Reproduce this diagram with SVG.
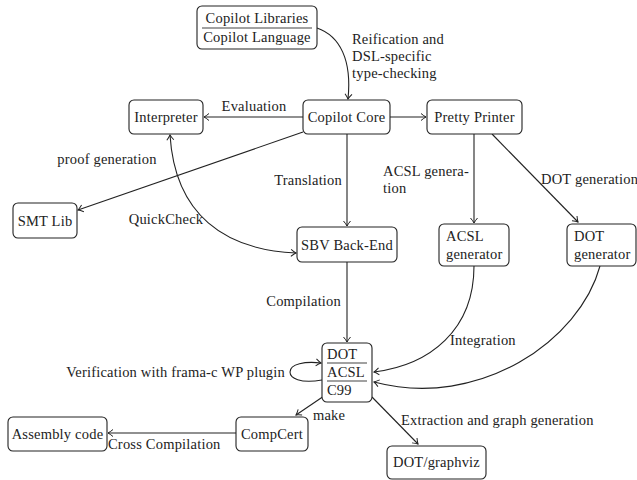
<svg xmlns="http://www.w3.org/2000/svg" width="637" height="480" viewBox="0 0 637 480">
<style>
.box{fill:#fff;stroke:#222;stroke-width:1.1}
.t{font-family:"Liberation Serif","Times New Roman",serif;font-size:14.5px;letter-spacing:0.2px;fill:#222}
.m{text-anchor:middle}
.e{text-anchor:end}
.c{fill:none;stroke:#222;stroke-width:1.1}
.div{stroke:#444;stroke-width:1.2}
</style>
<defs>
<marker id="arr" viewBox="-7 -5 9 10" refX="0" refY="0" markerWidth="9" markerHeight="10" orient="auto-start-reverse" markerUnits="userSpaceOnUse">
<path d="M-5,-3.5 Q-2,-1 0,0 Q-2,1 -5,3.5" fill="none" stroke="#222" stroke-width="1"/>
</marker>
</defs>
<g id="connectors">
<path class="c" d="M317,28 C340,36 352,60 348,99" marker-end="url(#arr)"/>
<text class="t" x="352" y="44">Reification and</text>
<text class="t" x="352" y="61">DSL-specific</text>
<text class="t" x="352" y="78">type-checking</text>
<path class="c" d="M303,117 L204,117" marker-end="url(#arr)"/>
<text class="t m" x="254" y="111">Evaluation</text>
<path class="c" d="M390,117 L426,117" marker-end="url(#arr)"/>
<path class="c" d="M303,132 L78,210" marker-end="url(#arr)"/>
<text class="t m" x="107" y="164">proof generation</text>
<path class="c" d="M347,134 L347,226" marker-end="url(#arr)"/>
<text class="t e" x="342" y="185">Translation</text>
<path class="c" d="M170,135 C175,215 225,250 296,253" marker-start="url(#arr)" marker-end="url(#arr)"/>
<text class="t m" x="166" y="224">QuickCheck</text>
<path class="c" d="M474,134 L474,223" marker-end="url(#arr)"/>
<text class="t" x="383" y="176">ACSL genera-</text>
<text class="t" x="383" y="193">tion</text>
<path class="c" d="M492,134 L578,222" marker-end="url(#arr)"/>
<text class="t" x="541" y="184">DOT generation</text>
<path class="c" d="M347,262 L347,342" marker-end="url(#arr)"/>
<text class="t e" x="341" y="306">Compilation</text>
<path class="c" d="M474,266 C474,330 430,365 374,372" marker-end="url(#arr)"/>
<path class="c" d="M600,266 C580,340 480,410 374,382" marker-end="url(#arr)"/>
<text class="t" x="450" y="345">Integration</text>
<path class="c" d="M322,380 C300,384 290,378 290,372 C290,364 305,361 321,363" marker-end="url(#arr)"/>
<text class="t e" x="285" y="377">Verification with frama-c WP plugin</text>
<path class="c" d="M324,396 L296,415" marker-end="url(#arr)"/>
<text class="t" x="313" y="420">make</text>
<path class="c" d="M236,433 L108,433" marker-end="url(#arr)"/>
<text class="t" x="108" y="449">Cross Compilation</text>
<path class="c" d="M372,397 L418,444" marker-end="url(#arr)"/>
<text class="t" x="401" y="425">Extraction and graph generation</text>
</g>
<g id="copilot-lib">
<rect class="box" x="197" y="6" width="120" height="43" rx="5"/>
<line class="div" x1="202" y1="28" x2="312" y2="28"/>
<text class="t m" x="257" y="23">Copilot Libraries</text>
<text class="t m" x="257" y="42">Copilot Language</text>
</g>
<g id="interpreter">
<rect class="box" x="129" y="100" width="74" height="34" rx="5"/>
<text class="t m" x="166" y="122">Interpreter</text>
</g>
<g id="copilot-core">
<rect class="box" x="303" y="100" width="87" height="34" rx="5"/>
<text class="t m" x="346.5" y="122">Copilot Core</text>
</g>
<g id="pretty-printer">
<rect class="box" x="427" y="100" width="95" height="34" rx="5"/>
<text class="t m" x="474.5" y="122">Pretty Printer</text>
</g>
<g id="smt-lib">
<rect class="box" x="13" y="203" width="64" height="35" rx="5"/>
<text class="t m" x="45" y="226">SMT Lib</text>
</g>
<g id="sbv">
<rect class="box" x="297" y="227" width="100" height="35" rx="5"/>
<text class="t m" x="347" y="250">SBV Back-End</text>
</g>
<g id="acsl-gen">
<rect class="box" x="439" y="224" width="70" height="42" rx="5"/>
<text class="t" x="446" y="241">ACSL</text>
<text class="t" x="446" y="259">generator</text>
</g>
<g id="dot-gen">
<rect class="box" x="567" y="224" width="69" height="42" rx="5"/>
<text class="t" x="574" y="241">DOT</text>
<text class="t" x="574" y="259">generator</text>
</g>
<g id="dot-acsl-c99">
<rect class="box" x="322" y="343" width="50" height="59" rx="5"/>
<line class="div" x1="327" y1="363" x2="367" y2="363"/>
<line class="div" x1="327" y1="381" x2="367" y2="381"/>
<text class="t" x="327" y="359">DOT</text>
<text class="t" x="327" y="377">ACSL</text>
<text class="t" x="327" y="395">C99</text>
</g>
<g id="compcert">
<rect class="box" x="236" y="417" width="72" height="34" rx="5"/>
<text class="t m" x="272" y="439">CompCert</text>
</g>
<g id="assembly">
<rect class="box" x="8" y="417" width="99" height="34" rx="5"/>
<text class="t m" x="57.5" y="439">Assembly code</text>
</g>
<g id="graphviz">
<rect class="box" x="387" y="446" width="99" height="33" rx="5"/>
<text class="t m" x="436.5" y="467">DOT/graphviz</text>
</g>
</svg>
